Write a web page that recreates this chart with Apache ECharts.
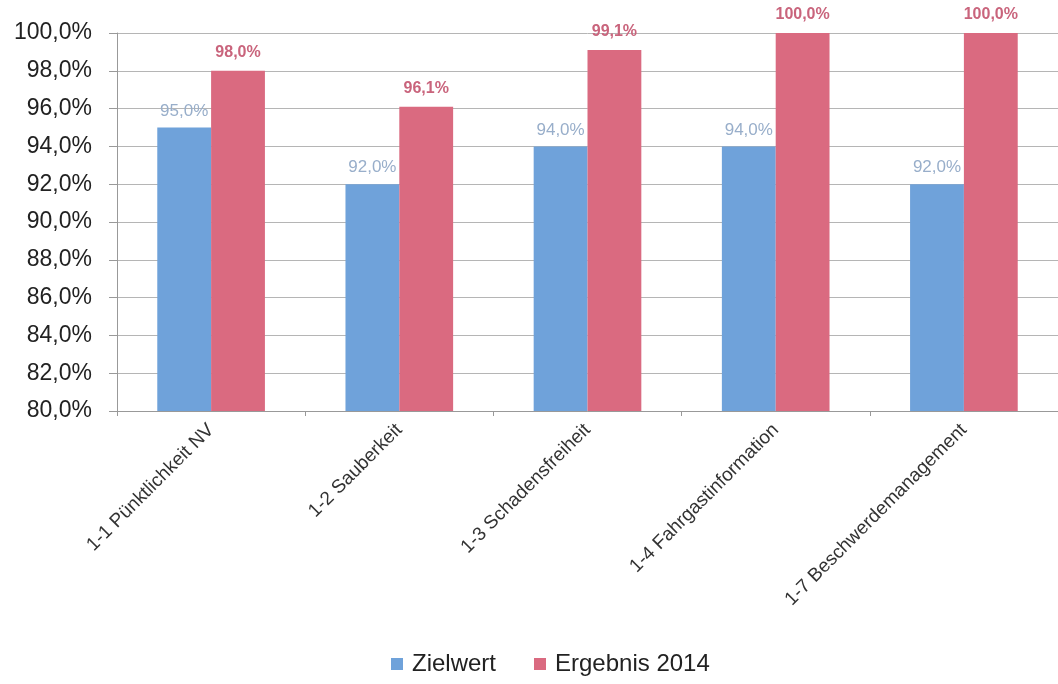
<!DOCTYPE html>
<html>
<head>
<meta charset="utf-8">
<script src="https://cdn.jsdelivr.net/npm/echarts@6/dist/echarts.min.js"></script>
<style>
  html, body { margin: 0; padding: 0; background: #fff; }
  #main { width: 1058px; height: 684px; }
</style>
</head>
<body>
<div id="main"></div>
<script>
// Kategorien und Werte (in %)
var categories = ['1-1 Pünktlichkeit NV', '1-2 Sauberkeit', '1-3 Schadensfreiheit', '1-4 Fahrgastinformation', '1-7 Beschwerdemanagement'];
var zielwert = [95.0, 92.0, 94.0, 94.0, 92.0];
var ergebnis2014 = [98.0, 96.1, 99.1, 100.0, 100.0];
var seriesNames = ['Zielwert', 'Ergebnis 2014'];

function pct(v) {
  return v.toFixed(1).replace('.', ',') + '%';
}

var chart = echarts.init(document.getElementById('main'));

var option = {
  backgroundColor: '#fff',
  animation: false,
  textStyle: { fontFamily: 'Liberation Sans, Arial, sans-serif' },
  grid: { left: 117, right: -4, top: 33, bottom: 273 },
  legend: {
    top: 647,
    left: 386,
    itemWidth: 12,
    itemHeight: 12,
    itemGap: 38,
    icon: 'rect',
    textStyle: { fontSize: 24, color: '#222', padding: [0, 0, 0, 4] },
    data: seriesNames
  },
  xAxis: {
    type: 'category',
    data: categories,
    axisLine: { lineStyle: { color: '#999' } },
    axisTick: { show: true, lineStyle: { color: '#999' } },
    axisLabel: { rotate: 45, fontSize: 19, color: '#333', margin: 16, interval: 0 }
  },
  yAxis: {
    type: 'value',
    min: 80,
    max: 100,
    interval: 2,
    axisLine: { show: true, lineStyle: { color: '#999' } },
    axisTick: { show: true, length: 8, lineStyle: { color: '#999' } },
    axisLabel: { fontSize: 23, color: '#222', margin: 25, formatter: function (v) { return pct(v); } },
    splitLine: { lineStyle: { color: '#b5b5b5', width: 1 } }
  },
  series: [
    {
      name: seriesNames[0],
      type: 'bar',
      data: zielwert,
      barWidth: '28.6%',
      barGap: '0%',
      itemStyle: { color: '#6fa2da' },
      label: {
        show: true,
        position: 'top',
        distance: 8,
        fontSize: 17,
        color: '#98aeca',
        formatter: function (p) { return pct(p.value); }
      }
    },
    {
      name: seriesNames[1],
      type: 'bar',
      data: ergebnis2014,
      barWidth: '28.6%',
      barGap: '0%',
      itemStyle: { color: '#da6a80' },
      label: {
        show: true,
        position: 'top',
        distance: 10,
        fontSize: 16,
        fontWeight: 'bold',
        color: '#c9647c',
        formatter: function (p) { return pct(p.value); }
      }
    }
  ]
};

chart.setOption(option);
</script>
</body>
</html>
